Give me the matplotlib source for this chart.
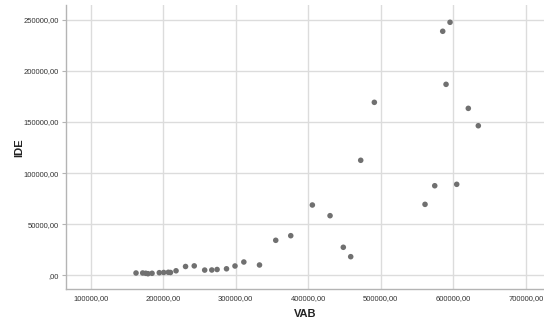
import matplotlib
matplotlib.use("Agg")
import matplotlib.pyplot as plt
from matplotlib.ticker import FuncFormatter

plt.rcParams['font.family'] = ['Liberation Sans', 'DejaVu Sans']

# VAB vs IDE per observation
vab = [162500, 171700, 175900, 179000, 184600, 194600, 200700, 207000, 210000,
       217700, 230800, 242800, 257200, 267000, 274300, 287300, 299000, 311200,
       332800, 355200, 375900, 405700, 430100, 448400, 458600, 472400, 491200,
       561100, 574500, 585500, 590100, 595600, 604800, 620800, 634600]
ide = [2250, 2250, 1960, 1560, 1960, 2540, 2740, 2930, 2740,
       4400, 8600, 9200, 5090, 5180, 5670, 6360, 9100, 13000,
       10070, 34230, 38730, 68760, 58300, 27400, 18200, 112500, 169200,
       69400, 87600, 238700, 186800, 247500, 89000, 163300, 146300]

x_ticks = [100000, 200000, 300000, 400000, 500000, 600000, 700000]
y_ticks = [0, 50000, 100000, 150000, 200000, 250000]


def comma_fmt(v, pos):
    # "250000,00" style, zero shown as ",00"
    v = int(round(v))
    return (str(v) if v != 0 else "") + ",00"


fig = plt.figure(figsize=(5.44, 3.27), dpi=100)
ax = fig.add_axes([0.1213, 0.1153, 0.8787, 0.8694])

ax.scatter(vab, ide, s=16, color='#707070', edgecolors='none', zorder=3)

ax.set_xlim(65900, 725200)
ax.set_ylim(-13700, 264400)
ax.set_xticks(x_ticks)
ax.set_yticks(y_ticks)
ax.xaxis.set_major_formatter(FuncFormatter(comma_fmt))
ax.yaxis.set_major_formatter(FuncFormatter(comma_fmt))

ax.grid(True, color='#dcdcdc', linewidth=1.0, zorder=0)
ax.set_axisbelow(True)

for side in ['top', 'right']:
    ax.spines[side].set_visible(False)
for side in ['left', 'bottom']:
    ax.spines[side].set_color('#b4b4b4')
    ax.spines[side].set_linewidth(1.0)

ax.tick_params(axis='y', length=3, width=0.8, color='#b4b4b4', labelsize=5.5,
               labelcolor='#333333', pad=2)
ax.tick_params(axis='x', length=0, labelsize=5.5, labelcolor='#333333', pad=4)

ax.set_xlabel("VAB", fontsize=8, fontweight='bold', color='#222222', labelpad=5)
ax.set_ylabel("IDE", fontsize=8, fontweight='bold', color='#222222')
ax.yaxis.set_label_coords(-0.088, 0.497)

fig.savefig("out.png", dpi=100)
